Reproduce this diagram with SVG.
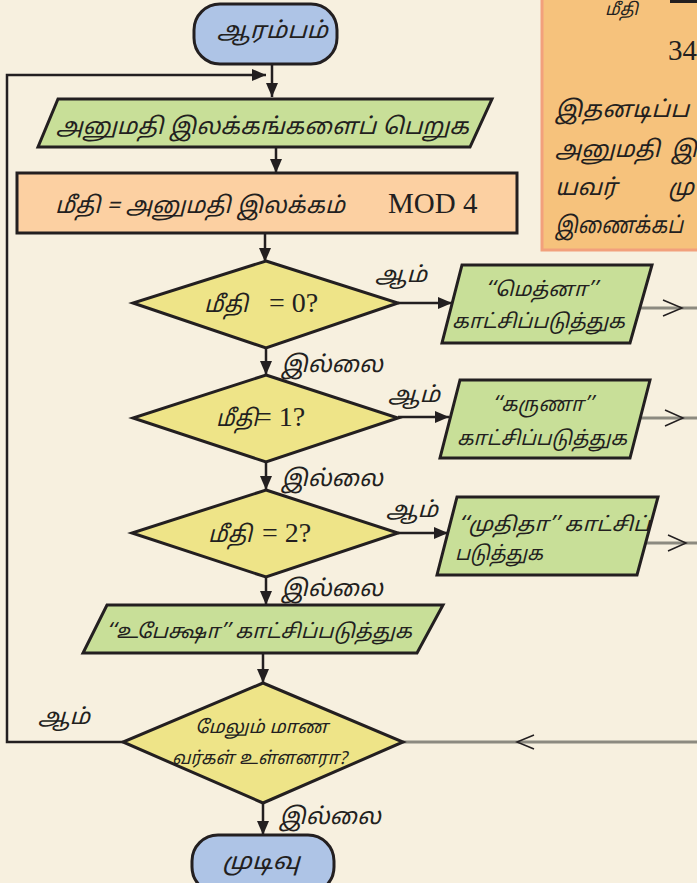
<svg xmlns="http://www.w3.org/2000/svg" width="697" height="883" viewBox="0 0 697 883">
<defs>
<style>
.bg{fill:#f7f0df}
.sh{stroke:#231f20;stroke-width:3;stroke-linejoin:miter}
.term{fill:#aec4e6}
.io{fill:#c8df98}
.proc{fill:#fcd0a2}
.dec{fill:#eee488}
.ta{font-family:'Noto Sans Tamil','Lohit Tamil','Noto Sans',sans-serif;fill:#231f20;font-style:italic}
.se{font-family:'Liberation Serif',serif;fill:#231f20}
.ln{stroke:#231f20;stroke-width:2.5;fill:none}
.gl{stroke:#8c8a80;stroke-width:3;fill:none}
.ch{stroke:#231f20;stroke-width:1.5;fill:none}
</style>
<marker id="ah" markerUnits="userSpaceOnUse" markerWidth="14" markerHeight="12" refX="14" refY="6" orient="auto">
<path d="M0,0 L14,6 L0,12 z" fill="#231f20"/>
</marker>
</defs>
<rect class="bg" x="0" y="0" width="697" height="883"/>

<g id="note">
<rect x="542" y="-5" width="170" height="255" fill="#f6c27c" stroke="#f2a07c" stroke-width="3"/>
<text class="ta" x="605" y="15" font-size="17">மீதி</text>
<rect x="670" y="0" width="27" height="3" fill="#231f20"/>
<text class="se" x="668" y="60" font-size="29">34</text>
<text class="ta" x="555" y="117" font-size="23" textLength="134" lengthAdjust="spacingAndGlyphs">இதனடிப்ப</text>
<text class="ta" x="555" y="157" font-size="23" textLength="105" lengthAdjust="spacingAndGlyphs">அனுமதி</text>
<text class="ta" x="671" y="157" font-size="23">இ</text>
<text class="ta" x="555" y="195" font-size="23" textLength="62" lengthAdjust="spacingAndGlyphs">யவர்</text>
<text class="ta" x="668" y="195" font-size="23">மு</text>
<text class="ta" x="555" y="233" font-size="23" textLength="128" lengthAdjust="spacingAndGlyphs">இணைக்கப்</text>
</g>

<g id="connectors">
<line class="ln" x1="272" y1="64" x2="272" y2="97" marker-end="url(#ah)"/>
<polyline class="ln" points="123,742 7,742 7,75 266,75" marker-end="url(#ah)"/>
<line class="ln" x1="276" y1="147" x2="276" y2="173" marker-end="url(#ah)"/>
<line class="ln" x1="265" y1="233" x2="265" y2="262" marker-end="url(#ah)"/>
<line class="ln" x1="266" y1="348" x2="266" y2="375" marker-end="url(#ah)"/>
<line class="ln" x1="266" y1="462" x2="266" y2="490" marker-end="url(#ah)"/>
<line class="ln" x1="266" y1="577" x2="266" y2="605" marker-end="url(#ah)"/>
<line class="ln" x1="263" y1="653" x2="263" y2="683" marker-end="url(#ah)"/>
<line class="ln" x1="263" y1="803" x2="263" y2="835" marker-end="url(#ah)"/>
<line class="ln" x1="398" y1="303" x2="452" y2="303" marker-end="url(#ah)"/>
<line class="ln" x1="398" y1="417" x2="449" y2="417" marker-end="url(#ah)"/>
<line class="ln" x1="398" y1="533" x2="448" y2="533" marker-end="url(#ah)"/>
<line class="gl" x1="641" y1="308" x2="697" y2="308"/>
<polyline class="ch" points="663,300 682,308 663,316"/>
<line class="gl" x1="640" y1="418" x2="697" y2="418"/>
<polyline class="ch" points="665,410 683,418 665,426"/>
<line class="gl" x1="646" y1="543" x2="697" y2="543"/>
<polyline class="ch" points="668,535 686,543 668,551"/>
<line class="gl" x1="403" y1="742" x2="697" y2="742"/>
<polyline class="ch" points="534,735 517,742 534,749"/>
<text class="ta" x="375" y="282" font-size="22" textLength="52" lengthAdjust="spacingAndGlyphs">ஆம்</text>
<text class="ta" x="388" y="402" font-size="22" textLength="52" lengthAdjust="spacingAndGlyphs">ஆம்</text>
<text class="ta" x="386" y="517" font-size="22" textLength="52" lengthAdjust="spacingAndGlyphs">ஆம்</text>
<text class="ta" x="38" y="724" font-size="22" textLength="52" lengthAdjust="spacingAndGlyphs">ஆம்</text>
<text class="ta" x="281" y="372" font-size="23" textLength="102" lengthAdjust="spacingAndGlyphs">இல்லை</text>
<text class="ta" x="281" y="486" font-size="23" textLength="102" lengthAdjust="spacingAndGlyphs">இல்லை</text>
<text class="ta" x="281" y="596" font-size="23" textLength="102" lengthAdjust="spacingAndGlyphs">இல்லை</text>
<text class="ta" x="279" y="824" font-size="23" textLength="102" lengthAdjust="spacingAndGlyphs">இல்லை</text>
</g>

<g id="start">
<rect class="sh term" x="194" y="4" width="143" height="60" rx="26"/>
<text class="ta" x="217" y="38" font-size="23" textLength="111" lengthAdjust="spacingAndGlyphs">ஆரம்பம்</text>
</g>

<g id="input">
<polygon class="sh io" points="58,99 492,99 470,147 38,147"/>
<text class="ta" x="56" y="134" font-size="23" textLength="413" lengthAdjust="spacingAndGlyphs">அனுமதி இலக்கங்களைப் பெறுக</text>
</g>

<g id="compute">
<rect class="sh proc" x="17" y="173" width="500" height="60"/>
<text class="ta" x="55" y="213" font-size="23" textLength="290" lengthAdjust="spacingAndGlyphs">மீதி = அனுமதி இலக்கம்</text>
<text class="se" x="388" y="213" font-size="29">MOD 4</text>
</g>

<g id="dec0">
<polygon class="sh dec" points="266,261 398,303 266,348 133,303"/>
<text class="ta" x="204" y="312" font-size="23" textLength="44" lengthAdjust="spacingAndGlyphs">மீதி</text>
<text class="se" x="269" y="312" font-size="28">= 0?</text>
</g>

<g id="dec1">
<polygon class="sh dec" points="266,375 398,418 266,462 133,418"/>
<text class="ta" x="216" y="426" font-size="23" textLength="42" lengthAdjust="spacingAndGlyphs">மீதி</text>
<text class="se" x="256" y="426" font-size="28">= 1?</text>
</g>

<g id="dec2">
<polygon class="sh dec" points="266,490 398,533 266,577 132,533"/>
<text class="ta" x="208" y="542" font-size="23" textLength="44" lengthAdjust="spacingAndGlyphs">மீதி</text>
<text class="se" x="262" y="542" font-size="28">= 2?</text>
</g>

<g id="out0">
<polygon class="sh io" points="462,265 652,265 630,343 442,343"/>
<text class="ta" x="485" y="296" font-size="20" textLength="112" lengthAdjust="spacingAndGlyphs">‘‘மெத்னா’’</text>
<text class="ta" x="452" y="328" font-size="20" textLength="173" lengthAdjust="spacingAndGlyphs">காட்சிப்படுத்துக</text>
</g>

<g id="out1">
<polygon class="sh io" points="460,380 650,380 630,458 440,458"/>
<text class="ta" x="492" y="411" font-size="20" textLength="101" lengthAdjust="spacingAndGlyphs">‘‘கருணா’’</text>
<text class="ta" x="457" y="445" font-size="20" textLength="170" lengthAdjust="spacingAndGlyphs">காட்சிப்படுத்துக</text>
</g>

<g id="out2">
<polygon class="sh io" points="457,497 658,497 637,575 437,575"/>
<text class="ta" x="458" y="531" font-size="20" textLength="192" lengthAdjust="spacingAndGlyphs">‘‘முதிதா’’ காட்சிப்</text>
<text class="ta" x="455" y="560" font-size="20" textLength="88" lengthAdjust="spacingAndGlyphs">படுத்துக</text>
</g>

<g id="out3">
<polygon class="sh io" points="107,605 443,605 417,653 83,653"/>
<text class="ta" x="106" y="638" font-size="20" textLength="306" lengthAdjust="spacingAndGlyphs">‘‘உபேக்ஷா’’ காட்சிப்படுத்துக</text>
</g>

<g id="more">
<polygon class="sh dec" points="263,683 403,742 263,803 123,742"/>
<text class="ta" x="195" y="733" font-size="18" textLength="133" lengthAdjust="spacingAndGlyphs">மேலும் மாண</text>
<text class="ta" x="172" y="764" font-size="18" textLength="175" lengthAdjust="spacingAndGlyphs">வர்கள் உள்ளனரா?</text>
</g>

<g id="end">
<rect class="sh term" x="192" y="835" width="142" height="58" rx="26"/>
<text class="ta" x="222" y="869" font-size="23" textLength="78" lengthAdjust="spacingAndGlyphs">முடிவு</text>
</g>
</svg>
